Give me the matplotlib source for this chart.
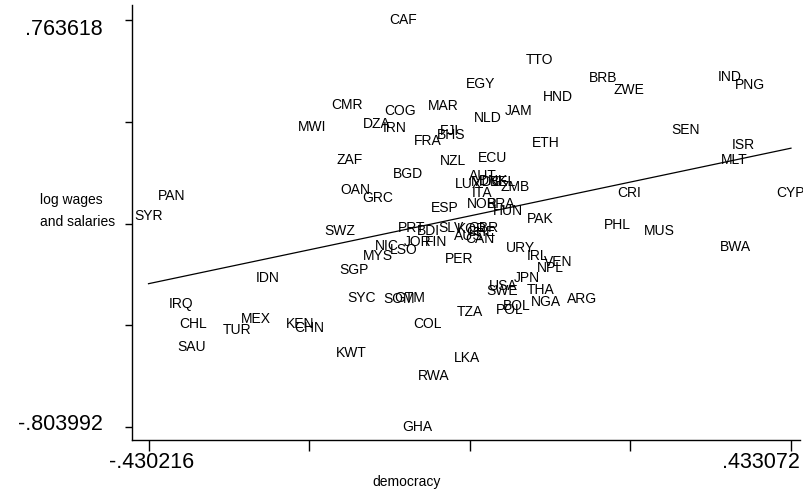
import numpy as np
import matplotlib
matplotlib.use("Agg")
import matplotlib.pyplot as plt
from matplotlib.transforms import blended_transform_factory

plt.rcParams['font.family'] = ['Liberation Sans', 'DejaVu Sans']

countries = ["CAF","TTO","EGY","BRB","ZWE","HND","IND","PNG","CMR","COG",
             "MAR","JAM","NLD","DZA","IRN","MWI","FJI","BHS","FRA","SEN",
             "ISR","ETH","ZAF","NZL","ECU","MLT","BGD","AUT","LUX","MDG",
             "DNK","BEL","ZMB","ITA","OAN","GRC","CRI","CYP","PAN","NOR",
             "BRA","HUN","ESP","SYR","PAK","PHL","MUS","SWZ","PRT","BDI",
             "SLV","KOR","GBR","CHE","AUS","CAN","JOR","FIN","NIC","LSO",
             "MYS","URY","IRL","VEN","NPL","BWA","PER","SGP","IDN","JPN",
             "USA","SWE","THA","IRQ","SYC","SOM","GTM","ARG","NGA","BOL",
             "POL","TZA","CHL","MEX","TUR","KEN","CHN","COL","SAU","KWT",
             "LKA","RWA","GHA"]

democracy = [-0.0883, 0.0958, 0.0165, 0.1805, 0.2154, 0.1200, 0.3511, 0.3780, -0.1635, -0.0923,
             -0.0345, 0.0676, 0.0259, -0.1232, -0.0990, -0.2105, -0.0251, -0.0238, -0.0547, 0.2920,
             0.3686, 0.1039, -0.1595, -0.0211, 0.0327, 0.3565, -0.0816, 0.0192, -0.0009, 0.0246,
             0.0340, 0.0461, 0.0622, 0.0179, -0.1528, -0.1219, 0.2154, 0.433072, -0.3986, 0.0179,
             0.0434, 0.0528, -0.0318, -0.430216, 0.0958, 0.1993, 0.2557, -0.1729, -0.0762, -0.0547,
             -0.0238, 0.0044, 0.0192, 0.0165, -0.0009, 0.0152, -0.0681, -0.0439, -0.1098, -0.0869,
             -0.1219, 0.0689, 0.0931, 0.1200, 0.1092, 0.3578, -0.0130, -0.1541, -0.2697, 0.0783,
             0.0461, 0.0447, 0.0971, -0.3866, -0.1434, -0.0936, -0.0789, 0.1522, 0.1039, 0.0649,
             0.0555, 0.0018, -0.3704, -0.2858, -0.3113, -0.2267, -0.2146, -0.0547, -0.3718, -0.1581,
             -0.0023, -0.0466, -0.0695]

log_wages = [0.763618, 0.6096, 0.5171, 0.5402, 0.4940, 0.4670, 0.5441, 0.5133, 0.4362, 0.4131,
             0.4324, 0.4131, 0.3862, 0.3630, 0.3476, 0.3515, 0.3361, 0.3207, 0.2976, 0.3399,
             0.2822, 0.2899, 0.2244, 0.2205, 0.2321, 0.2244, 0.1705, 0.1628, 0.1320, 0.1397,
             0.1435, 0.1397, 0.1204, 0.0973, 0.1088, 0.0780, 0.0973, 0.0973, 0.0857, 0.0549,
             0.0549, 0.0280, 0.0395, 0.0087, -0.0029, -0.0260, -0.0491, -0.0491, -0.0375, -0.0491,
             -0.0375, -0.0414, -0.0375, -0.0529, -0.0683, -0.0799, -0.0914, -0.0914, -0.1068, -0.1223,
             -0.1454, -0.1145, -0.1454, -0.1685, -0.1916, -0.1107, -0.1569, -0.1993, -0.2301, -0.2301,
             -0.2609, -0.2802, -0.2763, -0.3302, -0.3071, -0.3110, -0.3071, -0.3110, -0.3225, -0.3379,
             -0.3533, -0.3611, -0.4073, -0.3880, -0.4304, -0.4073, -0.4227, -0.4073, -0.4958, -0.5190,
             -0.5382, -0.6076, -0.803992]

x_tick_labels = ["-.430216", ".433072"]
y_tick_labels = [".763618", "-.803992"]

x = np.array(democracy)
y = np.array(log_wages)

fig = plt.figure(figsize=(8.04, 4.91), dpi=100)
ax = fig.add_axes([132/804, 51/491, 668/804, 435/491])

for c, xi, yi in zip(countries, x, y):
    ax.text(xi, yi, c, ha='center', va='center', fontsize=10, color='black')

b, a = np.polyfit(x, y, 1)
xs = np.array([x.min(), x.max()])
ax.plot(xs, a + b * xs, color='black', lw=0.9)

ax.set_xlim(-0.4524, 0.4452)
ax.set_ylim(-0.854, 0.8214)

xt = np.linspace(x.min(), x.max(), 5)
yt = np.linspace(y.max(), y.min(), 5)
ax.set_xticks(xt)
ax.set_yticks(yt)
ax.set_xticklabels([])
ax.set_yticklabels([])
ax.tick_params(axis='x', direction='out', length=8, width=1)
ax.tick_params(axis='y', direction='out', length=5, width=1)

# endpoint tick labels, Stata style (kept inside the plot extent)
ty = blended_transform_factory(ax.transAxes, ax.transData)
tx = blended_transform_factory(ax.transData, ax.transAxes)
ax.annotate(y_tick_labels[0], xy=(0, y.max()), xycoords=ty, xytext=(-29, -9),
            textcoords='offset pixels', ha='right', va='center', fontsize=15.5)
ax.annotate(y_tick_labels[1], xy=(0, y.min()), xycoords=ty, xytext=(-29, 3),
            textcoords='offset pixels', ha='right', va='center', fontsize=15.5)
ax.annotate(x_tick_labels[0], xy=(x.min(), 0), xycoords=tx, xytext=(3, -23),
            textcoords='offset pixels', ha='center', va='center', fontsize=15.5)
ax.annotate(x_tick_labels[1], xy=(x.max(), 0), xycoords=tx, xytext=(9, -23),
            textcoords='offset pixels', ha='right', va='center', fontsize=15.5)

for s in ['top', 'right']:
    ax.spines[s].set_visible(False)
for s in ['left', 'bottom']:
    ax.spines[s].set_linewidth(1)

fig.text(40/804, 1 - 200/491, "log wages", fontsize=10, ha='left', va='center')
fig.text(40/804, 1 - 222/491, "and salaries", fontsize=10, ha='left', va='center')
fig.text(407/804, 1 - 482/491, "democracy", fontsize=10, ha='center', va='center')

fig.savefig("out.png", dpi=100)
